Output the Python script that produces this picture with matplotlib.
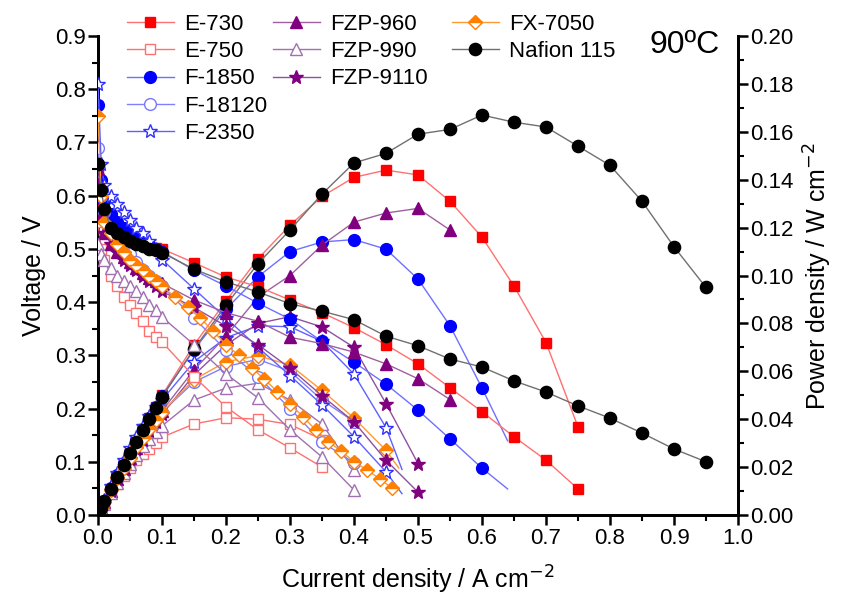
import matplotlib
matplotlib.use("Agg")
import matplotlib.pyplot as plt
from matplotlib.lines import Line2D
from matplotlib.ticker import MultipleLocator, FormatStrFormatter
from matplotlib import font_manager

plt.rcParams['font.family'] = ['Liberation Sans', 'DejaVu Sans']
_names = {f.name for f in font_manager.fontManager.ttflist}
NARROW = 'Liberation Sans Narrow' in _names
narrow_fam = ['Liberation Sans Narrow', 'DejaVu Sans'] if NARROW else ['Liberation Sans', 'DejaVu Sans']
lab_fs = 21 if NARROW else 18
t90_fs = 28 if NARROW else 23

# ---------------- data ----------------
X0 = [0, 0.005, 0.01, 0.02, 0.03, 0.04, 0.05, 0.06, 0.07, 0.08, 0.09, 0.10]

e730_i = X0 + [0.15, 0.20, 0.25, 0.30, 0.35, 0.40, 0.45, 0.50, 0.55, 0.60, 0.65, 0.70, 0.75]
e730_v = [0.64, 0.59, 0.565, 0.545, 0.535, 0.525, 0.52, 0.515, 0.51, 0.505, 0.502, 0.50,
          0.474, 0.447, 0.429, 0.404, 0.38, 0.352, 0.32, 0.284, 0.239, 0.194, 0.147, 0.103, 0.049]
e730_p = [0, 0.003, 0.0057, 0.0109, 0.016, 0.021, 0.026, 0.031, 0.0357, 0.0404, 0.0452, 0.050,
          0.071, 0.0894, 0.107, 0.121, 0.133, 0.141, 0.144, 0.142, 0.131, 0.116, 0.0956, 0.072, 0.0368]

e750_i = X0 + [0.15, 0.20, 0.25, 0.30, 0.35]
e750_v = [0.55, 0.50, 0.48, 0.45, 0.43, 0.41, 0.395, 0.38, 0.365, 0.345, 0.335, 0.325,
          0.26, 0.203, 0.16, 0.126, 0.09]
e750_p = [0, 0.0025, 0.0048, 0.009, 0.0129, 0.0164, 0.0198, 0.0228, 0.0256, 0.0276, 0.0302, 0.0325,
          0.038, 0.0406, 0.040, 0.0378, 0.0315]

f1850_i = X0 + [0.15, 0.20, 0.25, 0.30, 0.35, 0.40, 0.45, 0.50, 0.55, 0.60, 0.64]
f1850_v = [0.77, 0.63, 0.59, 0.565, 0.55, 0.54, 0.53, 0.52, 0.512, 0.507, 0.50, 0.495,
           0.46, 0.43, 0.398, 0.368, 0.326, 0.287, 0.246, 0.197, 0.143, 0.088, 0.049]
f1850_p = [0, 0.0032, 0.0059, 0.0113, 0.0165, 0.0216, 0.0265, 0.0312, 0.0358, 0.0406, 0.045, 0.0495,
           0.069, 0.086, 0.0995, 0.110, 0.114, 0.115, 0.111, 0.0985, 0.079, 0.053, 0.031]

f18120_i = X0 + [0.15, 0.20, 0.25, 0.30, 0.35, 0.40]
f18120_v = [0.69, 0.60, 0.57, 0.54, 0.52, 0.505, 0.49, 0.475, 0.46, 0.45, 0.44, 0.43,
            0.37, 0.31, 0.26, 0.20, 0.137, 0.098]
f18120_p = [0, 0.003, 0.0057, 0.0108, 0.0156, 0.0202, 0.0245, 0.0285, 0.0322, 0.036, 0.0396, 0.043,
            0.0555, 0.062, 0.065, 0.060, 0.048, 0.039]

f2350_i = X0 + [0.15, 0.20, 0.25, 0.30, 0.35, 0.40, 0.45, 0.475]
f2350_v = [0.81, 0.66, 0.62, 0.60, 0.585, 0.57, 0.555, 0.54, 0.53, 0.515, 0.50, 0.48,
           0.425, 0.37, 0.315, 0.262, 0.207, 0.147, 0.081, 0.04]
f2350_p = [0, 0.0033, 0.0062, 0.012, 0.0176, 0.0228, 0.0278, 0.0324, 0.0371, 0.0412, 0.045, 0.048,
           0.064, 0.074, 0.079, 0.0786, 0.0725, 0.0588, 0.0365, 0.019]

fzp960_i = X0 + [0.15, 0.20, 0.25, 0.30, 0.35, 0.40, 0.45, 0.50, 0.55]
fzp960_v = [0.65, 0.56, 0.53, 0.51, 0.495, 0.485, 0.475, 0.465, 0.455, 0.445, 0.44, 0.435,
            0.404, 0.38, 0.364, 0.334, 0.322, 0.306, 0.284, 0.256, 0.217]
fzp960_p = [0, 0.0028, 0.0053, 0.0102, 0.0149, 0.0194, 0.0238, 0.0279, 0.0319, 0.0356, 0.0396, 0.0435,
            0.0606, 0.0747, 0.091, 0.100, 0.1127, 0.1223, 0.1261, 0.128, 0.119]

fzp990_i = X0 + [0.15, 0.20, 0.25, 0.30, 0.35, 0.40]
fzp990_v = [0.51, 0.49, 0.48, 0.465, 0.45, 0.44, 0.43, 0.42, 0.41, 0.395, 0.385, 0.372,
            0.32, 0.265, 0.22, 0.16, 0.109, 0.047]
fzp990_p = [0, 0.0025, 0.0048, 0.0093, 0.0135, 0.0176, 0.0215, 0.0252, 0.0287, 0.0316, 0.0347, 0.0372,
            0.048, 0.053, 0.055, 0.048, 0.038, 0.0188]

fzp9110_i = X0 + [0.15, 0.20, 0.25, 0.30, 0.35, 0.40, 0.45, 0.50]
fzp9110_v = [0.62, 0.56, 0.53, 0.51, 0.495, 0.48, 0.47, 0.46, 0.45, 0.44, 0.43, 0.42,
             0.39, 0.355, 0.32, 0.276, 0.224, 0.175, 0.103, 0.043]
fzp9110_p = [0, 0.0028, 0.0053, 0.0102, 0.0149, 0.0192, 0.0235, 0.0276, 0.0315, 0.0352, 0.0387, 0.042,
             0.0585, 0.071, 0.080, 0.0828, 0.0785, 0.070, 0.0465, 0.0215]

fx7050_iv = X0 + [0.12, 0.14, 0.16, 0.18, 0.20, 0.22, 0.24, 0.26, 0.28, 0.30, 0.32, 0.34,
                  0.36, 0.38, 0.40, 0.42, 0.44, 0.46]
fx7050_v = [0.75, 0.60, 0.55, 0.53, 0.51, 0.495, 0.48, 0.47, 0.46, 0.45, 0.44, 0.43,
            0.41, 0.39, 0.37, 0.345, 0.32, 0.30, 0.277, 0.255, 0.232, 0.209, 0.185, 0.16,
            0.138, 0.12, 0.10, 0.085, 0.068, 0.05]
fx7050_ip = X0 + [0.15, 0.20, 0.25, 0.30, 0.35, 0.40, 0.45, 0.47]
fx7050_p = [0, 0.003, 0.0055, 0.0106, 0.0153, 0.0198, 0.024, 0.0282, 0.0322, 0.036, 0.0396, 0.043,
            0.0565, 0.064, 0.0665, 0.0626, 0.052, 0.0405, 0.027, 0.0196]

naf_i = X0 + [0.15, 0.20, 0.25, 0.30, 0.35, 0.40, 0.45, 0.50, 0.55, 0.60, 0.65, 0.70, 0.75,
              0.80, 0.85, 0.90, 0.95]
naf_v = [0.66, 0.61, 0.575, 0.54, 0.53, 0.522, 0.515, 0.51, 0.505, 0.50, 0.497, 0.493,
         0.462, 0.438, 0.419, 0.397, 0.383, 0.367, 0.336, 0.318, 0.293, 0.278, 0.252, 0.231,
         0.205, 0.182, 0.154, 0.124, 0.10]
naf_p = [0, 0.003, 0.0058, 0.0108, 0.0159, 0.0209, 0.0258, 0.0306, 0.0354, 0.040, 0.0447, 0.0493,
         0.0693, 0.0876, 0.105, 0.119, 0.134, 0.147, 0.151, 0.159, 0.161, 0.167, 0.164, 0.162,
         0.154, 0.146, 0.131, 0.112, 0.095]

# ---------------- styles ----------------
# (label, I_v, V, I_p, P, marker, edge, face, line, fillstyle, size, marker on last point)
series = [
    ("E-730", e730_i, e730_v, e730_i, e730_p, 's', '#FF0000', '#FF0000', '#FF7070', 'full', 7.5, True),
    ("E-750", e750_i, e750_v, e750_i, e750_p, 's', '#FF7070', 'white', '#FF7070', 'full', 7.5, True),
    ("F-1850", f1850_i, f1850_v, f1850_i, f1850_p, 'o', '#0000FF', '#0000FF', '#7070FF', 'full', 8.5, False),
    ("F-18120", f18120_i, f18120_v, f18120_i, f18120_p, 'o', '#7878FF', 'white', '#8080FF', 'full', 8.5, True),
    ("F-2350", f2350_i, f2350_v, f2350_i, f2350_p, '*', '#3030FF', 'white', '#6060FF', 'full', 10.5, False),
    ("FZP-960", fzp960_i, fzp960_v, fzp960_i, fzp960_p, '^', '#800080', '#800080', '#A060A0', 'full', 8.5, True),
    ("FZP-990", fzp990_i, fzp990_v, fzp990_i, fzp990_p, '^', '#A070B0', 'white', '#A070B0', 'full', 8.5, True),
    ("FZP-9110", fzp9110_i, fzp9110_v, fzp9110_i, fzp9110_p, '*', '#800080', '#800080', '#9050A0', 'full', 10.5, True),
    ("FX-7050", fx7050_iv, fx7050_v, fx7050_ip, fx7050_p, 'D', '#FF8000', '#FF8000', '#FF9933', 'top', 7, True),
    ("Nafion 115", naf_i, naf_v, naf_i, naf_p, 'o', '#000000', '#000000', '#707070', 'full', 8.8, True),
]

fig = plt.figure(figsize=(8.44, 5.99), dpi=100)
ax = fig.add_axes([98 / 844, 1 - 515 / 599, 640 / 844, 479 / 599])
ax2 = ax.twinx()

handles = []
for (lab, iv, v, ip, p, mk, ec, fc, lc, fs, ms, lastmark) in series:
    n_v = len(iv) if lastmark else len(iv) - 1
    n_p = len(ip) if lastmark else len(ip) - 1
    if lab == "FX-7050":
        n_p = len(ip) - 1
    kw = dict(color=lc, lw=1.0, marker=mk, markersize=ms, markeredgecolor=ec,
              markerfacecolor=fc, markeredgewidth=1.0, fillstyle=fs,
              markerfacecoloralt='white', zorder=3)
    ax.plot(iv, v, markevery=list(range(n_v)), **kw)
    ax2.plot(ip, p, markevery=list(range(n_p)), **kw)
    handles.append(Line2D([], [], **kw))

ax.set_xlim(0, 1.0)
ax.set_ylim(0, 0.9)
ax2.set_ylim(0, 0.2)
ax.set_zorder(ax2.get_zorder() + 1)
ax.patch.set_visible(False)

for a in (ax, ax2):
    a.spines['top'].set_visible(False)
    for s in ('left', 'right', 'bottom'):
        a.spines[s].set_linewidth(2.0)

ax.xaxis.set_major_locator(MultipleLocator(0.1))
ax.xaxis.set_minor_locator(MultipleLocator(0.05))
ax.yaxis.set_major_locator(MultipleLocator(0.1))
ax.yaxis.set_minor_locator(MultipleLocator(0.05))
ax2.yaxis.set_major_locator(MultipleLocator(0.02))
ax2.yaxis.set_minor_locator(MultipleLocator(0.01))
ax.xaxis.set_major_formatter(FormatStrFormatter('%.1f'))
ax.yaxis.set_major_formatter(FormatStrFormatter('%.1f'))
ax2.yaxis.set_major_formatter(FormatStrFormatter('%.2f'))

for a in (ax, ax2):
    a.tick_params(which='major', direction='out', length=7, width=1.8, labelsize=16, pad=2)
    a.tick_params(which='minor', direction='out', length=4, width=1.5)

ax.set_xlabel("Current density / A cm$^{-2}$", fontsize=lab_fs, family=narrow_fam, labelpad=11)
ax.set_ylabel("Voltage / V", fontsize=lab_fs, family=narrow_fam, labelpad=6)
ax2.set_ylabel("Power density / W cm$^{-2}$", fontsize=lab_fs, family=narrow_fam, labelpad=6)

fig.text(685 / 844, 1 - 45 / 599, "90ºC", fontsize=t90_fs, family=narrow_fam, ha='center', va='center')

# legends: three columns
labels = [s[0] for s in series]
cols = [(0, 5, 127 / 844), (5, 8, 273 / 844), (8, 10, 452 / 844)]
for a0, a1, xpos in cols:
    fig.legend(handles[a0:a1], labels[a0:a1], loc='upper left',
               bbox_to_anchor=(xpos, 1 - 14 / 599), frameon=False,
               fontsize=16, handlelength=2.1, handletextpad=0.45,
               labelspacing=0.28, borderpad=0.0, borderaxespad=0.0)

fig.savefig("out.png", dpi=100)
